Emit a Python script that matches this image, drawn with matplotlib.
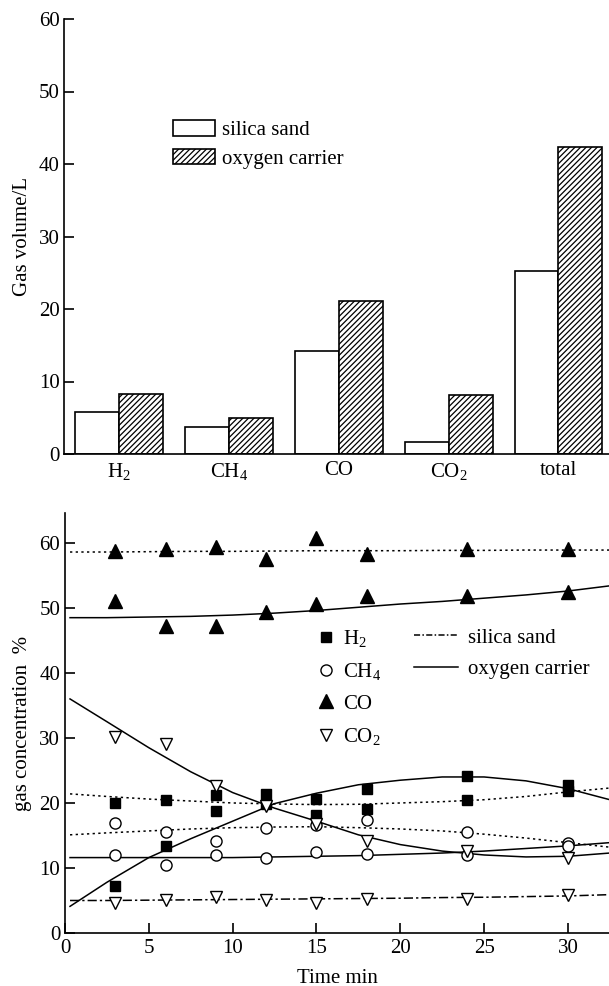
import matplotlib
matplotlib.use("Agg")
import matplotlib.pyplot as plt
from matplotlib.patches import Patch
from matplotlib.lines import Line2D
import numpy as np

plt.rcParams['font.family'] = ['Liberation Serif', 'DejaVu Serif']
plt.rcParams['mathtext.fontset'] = 'custom'
plt.rcParams['mathtext.rm'] = 'Liberation Serif'
plt.rcParams['mathtext.it'] = 'Liberation Serif'
plt.rcParams['hatch.linewidth'] = 0.9

# ---------------- Top chart data ----------------
categories = ['H$_2$', 'CH$_4$', 'CO', 'CO$_2$', 'total']
silica_vol = [5.8, 3.7, 14.2, 1.6, 25.3]
oxygen_vol = [8.3, 5.0, 21.1, 8.1, 42.4]
top_yticks = [0, 10, 20, 30, 40, 50, 60]

# ---------------- Bottom chart data ----------------
t_pts = [3, 6, 9, 12, 15, 18, 24, 30]
h2_silica = [20.0, 20.5, 21.3, 21.4, 20.6, 19.1, 20.4, 21.9]
h2_oxygen = [7.2, 13.4, 18.8, 19.8, 18.2, 22.1, 24.1, 22.7]
ch4_silica = [16.9, 15.6, 14.1, 16.1, 16.6, 17.4, 15.6, 13.8]
ch4_oxygen = [12.0, 10.5, 12.0, 11.5, 12.4, 12.2, 12.0, 13.4]
co_silica = [58.8, 59.1, 59.3, 57.6, 60.7, 58.3, 59.1, 59.1]
co_oxygen = [51.0, 47.2, 47.2, 49.4, 50.6, 51.8, 51.8, 52.4]
co2_silica = [4.6, 5.0, 5.6, 5.0, 4.6, 5.3, 5.3, 5.8]
co2_oxygen = [30.2, 29.0, 22.6, 19.6, 16.8, 14.2, 12.6, 11.5]

# fitted trend curves
t_fit = [0.3, 2.5, 5, 7.5, 10, 12.5, 15, 17.5, 20, 22.5, 25, 27.5, 30, 32.5]
h2_silica_fit = [21.4, 21.0, 20.6, 20.3, 20.0, 19.85, 19.75, 19.8, 20.0, 20.2, 20.5, 21.0, 21.7, 22.3]
h2_oxygen_fit = [4.1, 7.8, 11.6, 14.5, 17.2, 19.9, 21.5, 22.8, 23.5, 24.0, 24.0, 23.4, 22.2, 20.5]
ch4_silica_fit = [15.1, 15.4, 15.7, 16.0, 16.2, 16.3, 16.35, 16.2, 16.0, 15.7, 15.2, 14.6, 13.9, 13.2]
ch4_oxygen_fit = [11.6, 11.6, 11.6, 11.6, 11.6, 11.7, 11.8, 11.9, 12.1, 12.3, 12.6, 13.0, 13.4, 13.9]
co_silica_fit = [58.6, 58.6, 58.65, 58.7, 58.7, 58.75, 58.8, 58.8, 58.8, 58.85, 58.85, 58.9, 58.9, 58.9]
co_oxygen_fit = [48.5, 48.5, 48.6, 48.7, 48.9, 49.2, 49.6, 50.1, 50.6, 51.0, 51.5, 52.0, 52.6, 53.4]
co2_silica_fit = [5.0, 5.0, 5.05, 5.1, 5.15, 5.2, 5.25, 5.3, 5.35, 5.45, 5.5, 5.6, 5.7, 5.9]
co2_oxygen_fit = [36.0, 32.5, 28.5, 24.8, 21.6, 19.2, 17.2, 15.1, 13.6, 12.6, 12.0, 11.7, 11.8, 12.3]

bottom_xticks = [0, 5, 10, 15, 20, 25, 30]
bottom_yticks = [0, 10, 20, 30, 40, 50, 60]

W, H = 609, 986
fig = plt.figure(figsize=(W / 100, H / 100), dpi=100)

FS = 15

# ---------------- Top axes ----------------
ax1 = fig.add_axes([64 / W, 1 - 454 / H, (W - 64) / W, (454 - 19) / H])
x = np.arange(len(categories))
bw = 0.4
ax1.bar(x - bw / 2, silica_vol, bw, facecolor='white', edgecolor='black', linewidth=1.2)
ax1.bar(x + bw / 2, oxygen_vol, bw, facecolor='white', edgecolor='black', linewidth=1.2, hatch='//////')
ax1.set_xlim(-0.5, 4.46)
ax1.set_ylim(0, 60)
ax1.set_yticks(top_yticks)
ax1.set_xticks(x)
ax1.set_xticklabels(categories, fontsize=FS)
ax1.tick_params(axis='y', direction='in', length=7, width=1.2, labelsize=FS, pad=3)
ax1.tick_params(axis='x', length=0, pad=5)
for s in ['top', 'right']:
    ax1.spines[s].set_visible(False)
for s in ['left', 'bottom']:
    ax1.spines[s].set_linewidth(1.2)
ax1.set_ylabel('Gas volume/L', fontsize=FS, labelpad=5)
ax1.legend(handles=[Patch(facecolor='white', edgecolor='black', linewidth=1.2, label='silica sand'),
                    Patch(facecolor='white', edgecolor='black', linewidth=1.2, hatch='//////', label='oxygen carrier')],
           loc='upper left', bbox_to_anchor=(173 / W, 1 - 120 / H), bbox_transform=fig.transFigure,
           frameon=False, fontsize=FS, handlelength=2.0, handleheight=0.8, handletextpad=0.35,
           labelspacing=0.4, borderpad=0, borderaxespad=0)

# ---------------- Bottom axes ----------------
ax2 = fig.add_axes([65 / W, 1 - 933 / H, (W - 65) / W, (933 - 513) / H])
dotted = (0, (1.5, 2.2))
lw = 1.1
ax2.plot(t_fit, co_silica_fit, color='black', lw=lw, linestyle=dotted)
ax2.plot(t_fit, h2_silica_fit, color='black', lw=lw, linestyle=dotted)
ax2.plot(t_fit, ch4_silica_fit, color='black', lw=lw, linestyle=dotted)
ax2.plot(t_fit, co2_silica_fit, color='black', lw=lw, linestyle=(0, (6, 2, 1.5, 2)))
ax2.plot(t_fit, co_oxygen_fit, color='black', lw=lw, linestyle='-')
ax2.plot(t_fit, h2_oxygen_fit, color='black', lw=lw, linestyle='-')
ax2.plot(t_fit, ch4_oxygen_fit, color='black', lw=lw, linestyle='-')
ax2.plot(t_fit, co2_oxygen_fit, color='black', lw=lw, linestyle='-')

sq = dict(marker='s', ms=7, color='black', linestyle='none')
ci = dict(marker='o', ms=8, mfc='white', mec='black', mew=1.0, linestyle='none')
tu = dict(marker='^', ms=9.5, color='black', linestyle='none')
td = dict(marker='v', ms=9, mfc='white', mec='black', mew=1.0, linestyle='none')
ax2.plot(t_pts, h2_silica, **sq)
ax2.plot(t_pts, h2_oxygen, **sq)
ax2.plot(t_pts, ch4_silica, **ci)
ax2.plot(t_pts, ch4_oxygen, **ci)
ax2.plot(t_pts, co_silica, **tu)
ax2.plot(t_pts, co_oxygen, **tu)
ax2.plot(t_pts, co2_silica, **td)
ax2.plot(t_pts, co2_oxygen, **td)

ax2.set_xlim(0, 32.45)
ax2.set_ylim(0, 64.6)
ax2.set_xticks(bottom_xticks)
ax2.set_yticks(bottom_yticks)
ax2.tick_params(direction='in', length=7, width=1.2, labelsize=FS)
ax2.tick_params(axis='x', pad=4)
for s in ['top', 'right']:
    ax2.spines[s].set_visible(False)
for s in ['left', 'bottom']:
    ax2.spines[s].set_linewidth(1.2)
ax2.set_xlabel('Time min', fontsize=FS, labelpad=8)
ax2.set_ylabel('gas concentration  %', fontsize=FS, labelpad=5)

mk_handles = [Line2D([], [], **sq, label='H$_2$'),
              Line2D([], [], **ci, label='CH$_4$'),
              Line2D([], [], **tu, label='CO'),
              Line2D([], [], **td, label='CO$_2$')]
leg2 = ax2.legend(handles=mk_handles, loc='upper left', bbox_to_anchor=(316 / W, 1 - 628 / H),
                  bbox_transform=fig.transFigure, frameon=False, fontsize=FS, handlelength=1.0,
                  handletextpad=0.3, labelspacing=0.58, borderpad=0, borderaxespad=0)
ax2.add_artist(leg2)
ln_handles = [Line2D([], [], color='black', lw=lw, linestyle=(0, (4, 1.5, 1, 1.5)), label='silica sand'),
              Line2D([], [], color='black', lw=lw, linestyle='-', label='oxygen carrier')]
ax2.legend(handles=ln_handles, loc='upper left', bbox_to_anchor=(414 / W, 1 - 628 / H),
           bbox_transform=fig.transFigure, frameon=False, fontsize=FS, handlelength=2.1,
           handletextpad=0.5, labelspacing=0.58, borderpad=0, borderaxespad=0)

fig.savefig('out.png', dpi=100)
